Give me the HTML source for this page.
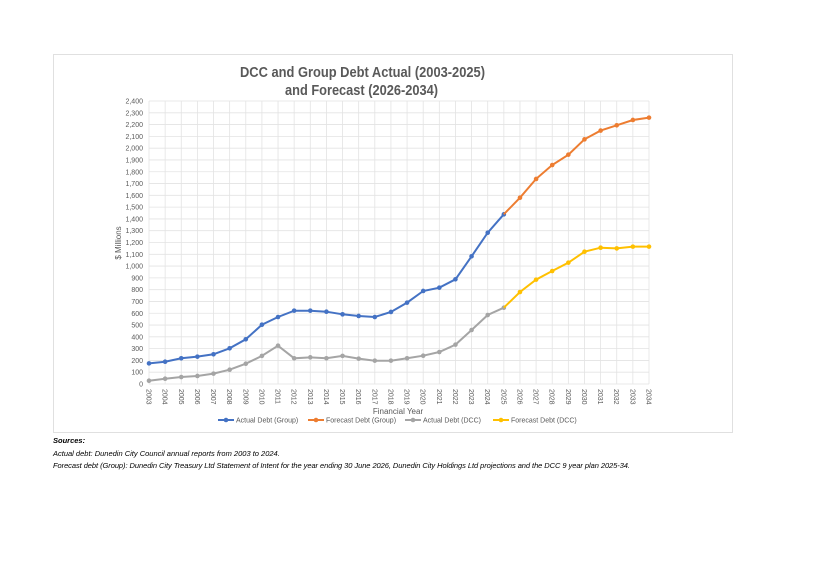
<!DOCTYPE html>
<html><head><meta charset="utf-8"><style>
body{margin:0;background:#fff;width:817px;height:578px;overflow:hidden;font-family:"Liberation Sans",sans-serif}
</style></head><body>
<svg id="s" width="817" height="578" xmlns="http://www.w3.org/2000/svg" font-family="Liberation Sans, sans-serif"></svg>
<script>
const s=document.getElementById('s');let h='';
h+='<rect x="53.5" y="54.5" width="679" height="378" fill="#fff" stroke="#e0e0e0"/>';
h+='<text x="240" y="77" font-size="14.5" font-weight="bold" fill="#595959" textLength="245" lengthAdjust="spacingAndGlyphs">DCC and Group Debt Actual (2003-2025)</text>';
h+='<text x="285" y="95" font-size="14.5" font-weight="bold" fill="#595959" textLength="153" lengthAdjust="spacingAndGlyphs">and Forecast (2026-2034)</text>';
const X=i=>149+i*500/31,Y=v=>384-v*283/2400;
for(let v=0;v<=2400;v+=100){const y=Y(v);h+=`<line x1="149" x2="649" y1="${y}" y2="${y}" stroke="#e3e3e3" stroke-width="0.8"/>`;
h+=`<text x="143" y="${y+2.5}" text-anchor="end" font-size="7" fill="#595959">${v.toLocaleString('en-US')}</text>`;}
for(let i=0;i<32;i++){const x=X(i);h+=`<line x1="${x}" x2="${x}" y1="${Y(2400)}" y2="384" stroke="#e3e3e3" stroke-width="0.8"/>`;
h+=`<text transform="translate(${x-2.5},389) rotate(90)" font-size="7" fill="#595959">${2003+i}</text>`;}
h+='<text transform="translate(121,243) rotate(-90)" text-anchor="middle" font-size="8" fill="#595959">$ Millions</text>';
h+='<text x="398" y="414" text-anchor="middle" font-size="8" fill="#595959">Financial Year</text>';
const ser=[
[0,[175,189,218,232,252,303,379,503,568,622,622,613,591,577,568,611,690,789,817,888,1083,1283,1439],'#4472c4'],
[22,[1439,1580,1739,1857,1945,2075,2149,2194,2239,2259],'#ed7d31'],
[0,[28,45,59,68,88,121,172,238,325,218,226,218,238,215,198,198,218,240,271,334,458,585,647],'#a5a5a5'],
[22,[647,780,885,958,1029,1122,1156,1150,1165,1165],'#ffc000']];
for(const [st,d,c] of ser){const p=d.map((v,i)=>X(st+i).toFixed(1)+','+Y(v).toFixed(1));
h+=`<polyline points="${p.join(' ')}" fill="none" stroke="${c}" stroke-width="2"/>`;
d.forEach((v,i)=>{if(!(st==22&&i==0))h+=`<circle cx="${X(st+i)}" cy="${Y(v)}" r="2.3" fill="${c}"/>`;});}
const lg=[[218,'Actual Debt (Group)','#4472c4'],[308,'Forecast Debt (Group)','#ed7d31'],[405,'Actual Debt (DCC)','#a5a5a5'],[493,'Forecast Debt (DCC)','#ffc000']];
for(const [x,t,c] of lg){h+=`<line x1="${x}" x2="${x+16}" y1="420" y2="420" stroke="${c}" stroke-width="2"/><circle cx="${x+8}" cy="420" r="2.3" fill="${c}"/><text x="${x+18}" y="422.5" font-size="7" fill="#595959">${t}</text>`;}
h+='<text x="53" y="443" font-size="7.5" font-style="italic" font-weight="bold" fill="#000">Sources:</text>';
h+='<text x="53" y="456" font-size="7.5" font-style="italic" fill="#000">Actual debt: Dunedin City Council annual reports from 2003 to 2024.</text>';
h+='<text x="53" y="468" font-size="7.5" font-style="italic" fill="#000" textLength="577">Forecast debt (Group): Dunedin City Treasury Ltd Statement of Intent for the year ending 30 June 2026, Dunedin City Holdings Ltd projections and the DCC 9 year plan 2025-34.</text>';
s.innerHTML=h;
</script>
</body></html>
